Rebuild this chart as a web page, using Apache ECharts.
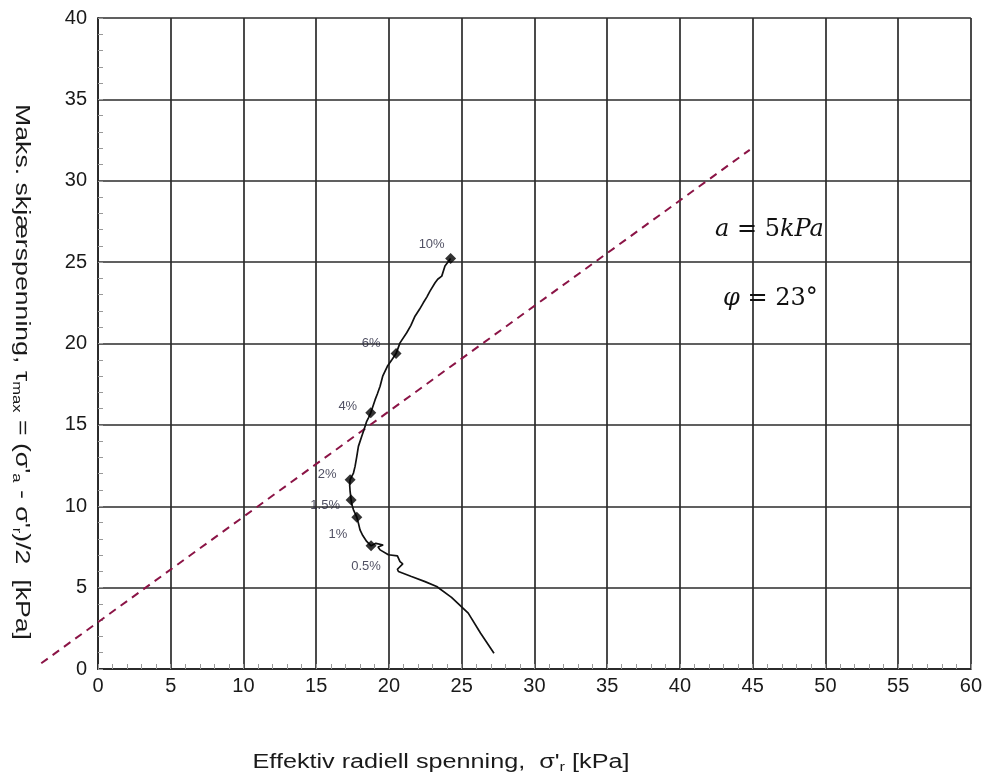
<!DOCTYPE html>
<html>
<head>
<meta charset="utf-8">
<script src="https://cdn.jsdelivr.net/npm/echarts@6/dist/echarts.min.js"></script>
<style>
html,body{margin:0;padding:0;background:#fff;}
#chart{width:985px;height:778px;}
</style>
</head>
<body>
<div id="chart"></div>
<script>
// ---- Data ----
const curveX = [27.22, 26.3, 25.45, 24.3, 23.28, 22.48, 21.5, 20.65, 20.58, 20.95, 20.76, 20.58, 19.96, 19.39, 19.25, 19.6, 19.1, 18.77, 18.47, 18.2, 18.01, 17.9, 17.79, 17.56, 17.45, 17.4, 17.33, 17.3, 17.33, 17.56, 17.67, 17.79, 17.9, 18.13, 18.29, 18.47, 18.6, 18.75, 19.05, 19.2, 19.39, 19.57, 19.89, 20.2, 20.49, 20.76, 21.22, 21.5, 21.79, 22.1, 22.36, 22.6, 22.82, 23.17, 23.35, 23.63, 23.85, 24.24];
const curveY = [0.97, 2.2, 3.43, 4.4, 5.07, 5.37, 5.7, 5.99, 6.13, 6.46, 6.6, 6.95, 7.02, 7.32, 7.5, 7.62, 7.72, 7.57, 7.84, 8.2, 8.55, 8.96, 9.33, 9.78, 10.1, 10.38, 10.91, 11.3, 11.63, 12.04, 12.45, 13.07, 13.68, 14.3, 14.71, 15.22, 15.45, 15.74, 16.55, 16.9, 17.37, 17.99, 18.6, 19.0, 19.38, 20.04, 20.66, 21.1, 21.68, 22.1, 22.5, 22.85, 23.22, 23.73, 23.95, 24.14, 24.76, 25.23];
const markerLabels = ['0.5%', '1%', '1.5%', '2%', '4%', '6%', '10%'];
const markerX = [18.77, 17.79, 17.4, 17.33, 18.75, 20.49, 24.24];
const markerY = [7.57, 9.33, 10.38, 11.63, 15.74, 19.38, 25.23];
const envelopeX = [-3.9, 44.8];
const envelopeY = [0.35, 31.9];
const xAxisTitle = "Effektiv radiell spenning,  σ'{sub|r} [kPa]";
const yAxisTitle = "Maks. skjærspenning, τ{sub|max} = (σ'{sub|a} - σ'{sub|r})/2  [kPa]";

// ---- Styling ----
const labelOffsets = {
  '0.5%': [-5, 21], '1%': [-19, 17], '1.5%': [-26, 5], '2%': [-23, -5],
  '4%': [-23, -6], '6%': [-25, -10], '10%': [-19, -14]
};
const gridColor = '#2b2b2b';
const fontSans = '"Liberation Sans", Arial, sans-serif';
const mathFont = '"DejaVu Serif", serif';

const chart = echarts.init(document.getElementById('chart'), null, {renderer: 'canvas'});
const curveData = curveX.map((x, i) => [x, curveY[i]]);
const markerData = markerX.map((x, i) => ({
  value: [x, markerY[i]],
  name: markerLabels[i],
  label: {offset: labelOffsets[markerLabels[i]]}
}));

const axisCommon = {
  axisLine: {show: true, lineStyle: {color: gridColor, width: 2}},
  axisTick: {show: true, inside: true, length: 5, lineStyle: {color: '#999', width: 1}},
  minorTick: {show: true, splitNumber: 5, length: 5, lineStyle: {color: '#999', width: 1}},
  splitLine: {show: true, lineStyle: {color: gridColor, width: 1.7}}
};
const subStyle = {fontFamily: fontSans, fontSize: 13, fill: '#1a1a1a', padding: [10, 0, 0, 0]};

const option = {
  backgroundColor: '#fff',
  animation: false,
  grid: {left: 98, right: 14, top: 18, bottom: 109},
  xAxis: Object.assign({
    type: 'value', min: 0, max: 60, interval: 5,
    axisLabel: {fontFamily: fontSans, fontSize: 20, color: '#1a1a1a', margin: 7}
  }, axisCommon),
  yAxis: Object.assign({
    type: 'value', min: 0, max: 40, interval: 5,
    axisLabel: {fontFamily: fontSans, fontSize: 20, color: '#1a1a1a', margin: 11}
  }, axisCommon),
  series: [
    {
      type: 'line', data: curveData, showSymbol: false, symbol: 'none',
      lineStyle: {color: '#111', width: 1.7}, z: 4
    },
    {
      type: 'scatter', data: markerData, symbol: 'diamond', symbolSize: 11,
      itemStyle: {color: '#000'}, z: 5,
      label: {
        show: true, position: 'inside', formatter: p => p.name,
        fontFamily: fontSans, fontSize: 13, color: '#24243c'
      }
    }
  ],
  graphic: [
    {
      id: 'xname', type: 'text', x: 441, y: 762, scaleX: 1.26, z: 10,
      style: {
        text: xAxisTitle, x: 0, y: 0, align: 'center', verticalAlign: 'middle',
        font: '20px ' + fontSans, fill: '#1a1a1a', rich: {sub: subStyle}
      }
    },
    {
      id: 'yname', type: 'text', x: 22, y: 372, rotation: -Math.PI / 2, scaleX: 1.27, z: 10,
      style: {
        text: yAxisTitle, x: 0, y: 0, align: 'center', verticalAlign: 'middle',
        font: '21px ' + fontSans, fill: '#1a1a1a', rich: {sub: subStyle}
      }
    },
    {
      id: 'pa', type: 'text', x: 715, y: 230, z: 10,
      style: {
        text: '{i|a} = 5{i|kPa}', x: 0, y: 0, align: 'left', verticalAlign: 'middle',
        font: '24px ' + mathFont, fill: '#111',
        rich: {i: {fontFamily: mathFont, fontStyle: 'italic', fontSize: 24, fill: '#111'}}
      }
    },
    {
      id: 'pphi', type: 'text', x: 723, y: 299, z: 10,
      style: {
        text: '{i|φ} = 23°', x: 0, y: 0, align: 'left', verticalAlign: 'middle',
        font: '24px ' + mathFont, fill: '#111',
        rich: {i: {fontFamily: mathFont, fontStyle: 'italic', fontSize: 24, fill: '#111'}}
      }
    }
  ]
};
chart.setOption(option);

// Failure envelope drawn through the chart's own scale (extends past the y axis, unclipped)
const envPts = envelopeX.map((x, i) => chart.convertToPixel({gridIndex: 0}, [x, envelopeY[i]]));
chart.setOption({
  graphic: [{
    id: 'envelope', type: 'polyline', z: 3,
    shape: {points: envPts},
    style: {stroke: '#8b1446', lineWidth: 2, lineDash: [8, 6], fill: null}
  }]
});
</script>
</body>
</html>
